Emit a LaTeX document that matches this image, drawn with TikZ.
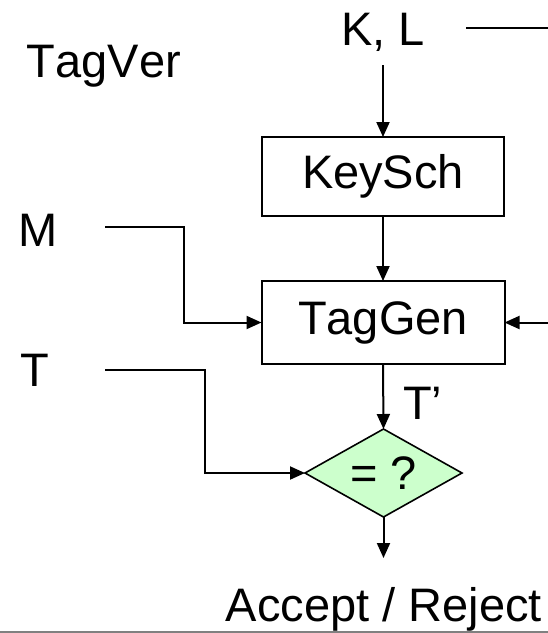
\documentclass[tikz,border=0pt]{standalone}
\usepackage{fontspec}
\setmainfont[Kerning=Off]{Liberation Sans}
\usetikzlibrary{arrows.meta,shapes.geometric}
\begin{document}
\begin{tikzpicture}[x=1pt,y=-1pt,
  every node/.style={font=\fontsize{47}{56}\selectfont, inner sep=0pt, outer sep=0pt},
  lbl/.style={anchor=base west},
  blk/.style={draw, line width=2pt, rectangle},
  dec/.style={draw, line width=1.6pt, diamond, fill=declgreen, minimum width=157pt, minimum height=88pt, aspect=1.78},
  ln/.style={line width=2pt},
  arr/.style={line width=2pt, -{Triangle[length=15pt,width=13pt]}}]
\definecolor{declgreen}{RGB}{204,255,204}
\useasboundingbox (0,0) rectangle (548,633);
% labels
\node[lbl] (tagver) at (27,77) {TagVer};
\node[anchor=base] (kl) at (383,45) {K, L};
\node[lbl] (m) at (18,246) {M};
\node[lbl] (t) at (20,386) {T};
\node[lbl] (tp) at (403,419) {T’};
\node[anchor=base] (acc) at (384,621) {Accept / Reject};
% blocks
\node[blk, minimum width=242pt, minimum height=79pt] (keysch) at (383,176.5) {KeySch};
\node[blk, minimum width=243pt, minimum height=83pt] (taggen) at (383,322.5) {TagGen};
\node[dec] (dia) at (383.5,473) {= ?};
% coordinates
\coordinate (kla) at (466,28);
\coordinate (klb) at (548,28);
\coordinate (klbot) at (383,65);
\coordinate (m1) at (105,226.5);
\coordinate (mk) at (183.5,226.5);
\coordinate (t1) at (105,369.5);
\coordinate (tk) at (204.5,369.5);
\coordinate (rr) at (548,322.5);
\coordinate (out) at (383.5,558);
\coordinate (bl) at (0,632);
\coordinate (br) at (548,632);
% connectors
\draw[ln] (kla) -- (klb);
\draw[arr] (klbot) -- (keysch.north);
\draw[arr] (keysch.south) -- (taggen.north);
\draw[arr] (m1) -- (mk) |- (taggen.west);
\draw[arr] (rr) -- (taggen.east);
\draw[arr] (t1) -- (tk) |- (dia.west);
\draw[arr] (taggen.south) -- (dia.north);
\draw[arr] (dia.south) -- (out);
\draw[line width=2pt, gray] (bl) -- (br);
\end{tikzpicture}
\end{document}
